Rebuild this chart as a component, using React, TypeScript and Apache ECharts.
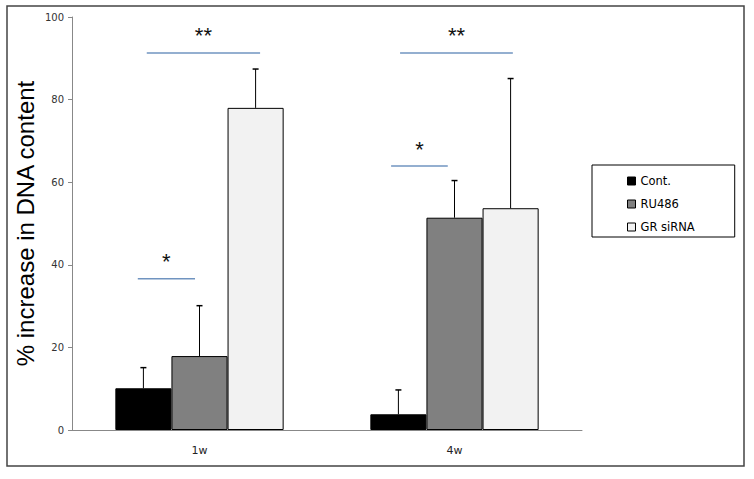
import React, { useEffect, useRef } from "react";
import * as echarts from "echarts";

const categories = ["1w", "4w"];
const seriesNames = ["Cont.", "RU486", "GR siRNA"];
const seriesColors = ["#000000", "#808080", "#f2f2f2"];
const values1w = [10.1, 17.9, 78.0];
const values4w = [3.8, 51.4, 53.7];
const errors1w = [5.0, 12.2, 9.4];
const errors4w = [5.9, 9.0, 31.4];
const yTicks = { min: 0, max: 100, interval: 20 };
// [categoryIndex, fromBarOffset, toBarOffset, yValue, label]
const sigLines: [number, number, number, number, string][] = [
  [0, -0.94, 1.08, 91.3, "**"],
  [0, -1.1, -0.08, 36.6, "*"],
  [1, -0.97, 1.04, 91.3, "**"],
  [1, -1.13, -0.12, 63.9, "*"],
];

export default function App() {
  const ref = useRef<HTMLDivElement>(null);
  useEffect(() => {
    if (!ref.current) return;
    const chart = echarts.init(ref.current, undefined, { renderer: "svg" });
    const values = [values1w, values4w];
    const errors = [errors1w, errors4w];
    const BARW = 0.22;
    const barSeries = seriesNames.map((name, i) => ({
      name,
      type: "bar",
      barWidth: "22%",
      barGap: "0%",
      data: categories.map((_, c) => values[c][i]),
      itemStyle: { color: seriesColors[i], borderColor: "#000", borderWidth: 1 },
    }));
    const errData: number[][] = [];
    categories.forEach((_, c) => {
      seriesNames.forEach((__, i) => {
        errData.push([c, i, values[c][i], errors[c][i]]);
      });
    });
    const option: any = {
      animation: false,
      textStyle: { fontFamily: "DejaVu Sans" },
      grid: { left: 72, right: 172, top: 17, bottom: 49, containLabel: false, outerBoundsMode: "none" },
      graphic: [
        {
          type: "rect",
          shape: { x: 7, y: 6, width: 737, height: 460 },
          style: { fill: "none", stroke: "#444", lineWidth: 1.5 },
          silent: true,
          z: -1,
        },
      ],
      legend: {
        orient: "vertical",
        left: 592,
        top: 165,
        data: seriesNames,
        itemWidth: 8,
        itemHeight: 8,
        itemGap: 11,
        icon: "rect",
        borderColor: "#000",
        borderWidth: 1,
        padding: [10, 40, 4, 35],
        itemStyle: { borderColor: "#000", borderWidth: 1 },
        textStyle: { fontSize: 11.5, color: "#000", fontFamily: "DejaVu Sans" },
      },
      xAxis: {
        type: "category",
        data: categories,
        axisLine: { lineStyle: { color: "#888" } },
        axisTick: { lineStyle: { color: "#888" }, length: 4 },
        axisLabel: { color: "#222", fontSize: 11, margin: 15, fontFamily: "DejaVu Sans" },
      },
      yAxis: {
        type: "value",
        min: yTicks.min,
        max: yTicks.max,
        interval: yTicks.interval,
        name: "% increase in DNA content",
        nameLocation: "middle",
        nameGap: 35,
        nameMoveOverlap: false,
        nameTextStyle: { fontSize: 24, color: "#000", fontFamily: "Liberation Sans" },
        axisLine: { show: true, lineStyle: { color: "#888" } },
        axisTick: { show: true, lineStyle: { color: "#888" }, length: 4 },
        splitLine: { show: false },
        axisLabel: { color: "#333", fontSize: 10, margin: 8, fontFamily: "DejaVu Sans" },
      },
      series: [
        ...barSeries,
        {
          type: "custom",
          name: "err",
          data: errData,
          z: 5,
          renderItem: (params: any, api: any) => {
            const c = api.value(0);
            const i = api.value(1);
            const v = api.value(2);
            const e = api.value(3);
            const band = api.size([1, 0])[0];
            const bw = band * BARW;
            const p0 = api.coord([c, v]);
            const p1 = api.coord([c, v + e]);
            const x = p0[0] + (i - 1) * bw;
            return {
              type: "group",
              children: [
                {
                  type: "line",
                  shape: { x1: x, y1: p0[1], x2: x, y2: p1[1] },
                  style: { stroke: "#000", lineWidth: 1 },
                },
                {
                  type: "line",
                  shape: { x1: x - 3, y1: p1[1], x2: x + 3, y2: p1[1] },
                  style: { stroke: "#000", lineWidth: 1.5 },
                },
              ],
            };
          },
        },
        {
          type: "custom",
          name: "sig",
          data: sigLines.map((s) => [s[0], s[1], s[2], s[3]]),
          z: 5,
          renderItem: (params: any, api: any) => {
            const c = api.value(0);
            const a = api.value(1);
            const b = api.value(2);
            const y = api.value(3);
            const band = api.size([1, 0])[0];
            const bw = band * BARW;
            const p = api.coord([c, y]);
            const x1 = p[0] + a * bw;
            const x2 = p[0] + b * bw;
            return {
              type: "group",
              children: [
                {
                  type: "line",
                  shape: { x1, y1: p[1], x2, y2: p[1] },
                  style: { stroke: "#7094c0", lineWidth: 1.5 },
                },
                {
                  type: "text",
                  x: (x1 + x2) / 2,
                  y: p[1] - 17,
                  style: {
                    text: sigLines[params.dataIndex][4],
                    fill: "#111",
                    font: "22px 'Liberation Sans'",
                    align: "center",
                    verticalAlign: "middle",
                  },
                },
              ],
            };
          },
        },
      ],
    };
    chart.setOption(option);
    return () => chart.dispose();
  }, []);
  return (
    <div
      ref={ref}
      style={{ width: 754, height: 479, position: "fixed", left: 0, top: 0, background: "#fff" }}
    />
  );
}
